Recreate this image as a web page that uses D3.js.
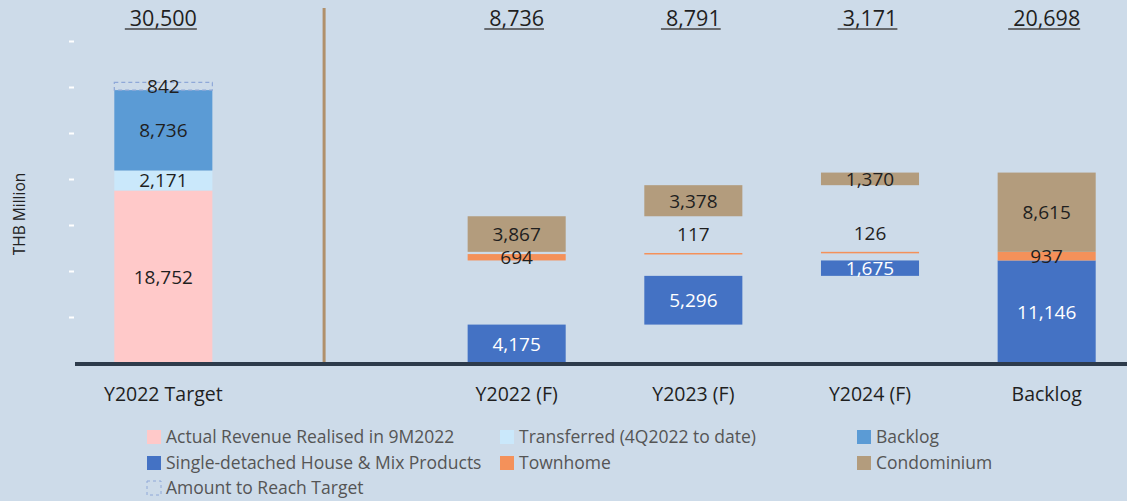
<!DOCTYPE html>
<html>
<head>
<meta charset="utf-8">
<script src="https://cdn.jsdelivr.net/npm/d3@7"></script>
<style>
  html, body { margin: 0; padding: 0; background: #cddbe9; }
  svg { display: block; font-family: "Open Sans", "Noto Sans", sans-serif; }
</style>
</head>
<body>
<svg id="chart" width="1127" height="501"></svg>
<script>
// ---------- DATA ----------
const categories = ["Y2022 Target", "", "Y2022 (F)", "Y2023 (F)", "Y2024 (F)", "Backlog"];
const totals = ["30,500", "", "8,736", "8,791", "3,171", "20,698"];

const targetSeries = ["Actual Revenue Realised in 9M2022", "Transferred (4Q2022 to date)", "Backlog", "Amount to Reach Target"];
const targetValues = [18752, 2171, 8736, 842];

const productCategories = ["Y2022 (F)", "Y2023 (F)", "Y2024 (F)", "Backlog"];
const productSeries = ["Single-detached House & Mix Products", "Townhome", "Condominium"];
const singleDetachedValues = [4175, 5296, 1675, 11146];
const townhomeValues = [694, 117, 126, 937];
const condominiumValues = [3867, 3378, 1370, 8615];

const yTicks = [5000, 10000, 15000, 20000, 25000, 30000, 35000];

// ---------- STYLE ----------
const colors = {
  "Actual Revenue Realised in 9M2022": "#ffc9c9",
  "Transferred (4Q2022 to date)": "#cae8fb",
  "Backlog": "#5b9bd5",
  "Amount to Reach Target": "none",
  "Single-detached House & Mix Products": "#4472c4",
  "Townhome": "#f4915a",
  "Condominium": "#b39c7d"
};
const labelColors = {
  "Single-detached House & Mix Products": "#ffffff"
};

const svg = d3.select("#chart");
const W = 1127, H = 501;

const x = d3.scaleBand().domain(categories).range([75, 1135]).paddingInner(0.445).paddingOuter(0.2225);
const y = d3.scaleLinear().domain([0, 35000]).range([363, 41]);
const bw = x.bandwidth();

// y axis (ticks only)
const yAxis = svg.append("g").attr("transform", "translate(75,0)")
  .call(d3.axisLeft(y).tickValues(yTicks).tickSize(5).tickFormat(""));
yAxis.select(".domain").remove();
yAxis.selectAll(".tick line").attr("stroke", "#ffffff").attr("stroke-width", 2).attr("transform", "translate(-1,0)");

svg.append("text")
  .attr("transform", `translate(25,${y(16200)}) rotate(-90)`)
  .attr("text-anchor", "middle")
  .attr("font-size", 15.5)
  .attr("fill", "#222")
  .text("THB Million");

// ---------- build segments ----------
const segs = [];
let acc = 0;
targetSeries.forEach((s, i) => {
  segs.push({ cat: categories[0], series: s, y0: acc, y1: acc + targetValues[i], value: targetValues[i] });
  acc += targetValues[i];
});

const productValues = [singleDetachedValues, townhomeValues, condominiumValues];
let typeBase = 0;
productSeries.forEach((s, k) => {
  const vals = productValues[k];
  let run = typeBase;
  productCategories.forEach((c, i) => {
    const v = vals[i];
    if (c === "Backlog") {
      segs.push({ cat: c, series: s, y0: typeBase, y1: typeBase + v, value: v });
    } else {
      segs.push({ cat: c, series: s, y0: run, y1: run + v, value: v });
      run += v;
    }
  });
  typeBase += vals[vals.length - 1];
});

// bars
svg.append("g").selectAll("rect").data(segs).join("rect")
  .attr("x", d => x(d.cat))
  .attr("width", bw)
  .attr("y", d => y(d.y1))
  .attr("height", d => Math.max(1.5, y(d.y0) - y(d.y1)))
  .attr("fill", d => colors[d.series])
  .attr("stroke", d => d.series === "Amount to Reach Target" ? "#8fa8d8" : "none")
  .attr("stroke-dasharray", d => d.series === "Amount to Reach Target" ? "4,3" : null)
  .attr("stroke-width", 1.2);

// value labels
const fmt = d3.format(",");
svg.append("g").selectAll("text").data(segs).join("text")
  .attr("x", d => x(d.cat) + bw / 2)
  .attr("y", d => d.value < 300 ? y(d.y1) - 19 : (y(d.y0) + y(d.y1)) / 2)
  .attr("dy", "0.36em")
  .attr("text-anchor", "middle")
  .attr("font-size", 19)
  .attr("fill", d => labelColors[d.series] || "#1f1f1f")
  .text(d => fmt(d.value));

// separator
const sepX = x(categories[1]) + bw / 2 - x.step() * 0.09;
svg.append("line")
  .attr("x1", sepX).attr("x2", sepX)
  .attr("y1", 8).attr("y2", y(0))
  .attr("stroke", "#b0906b").attr("stroke-width", 3);

// baseline
svg.append("line")
  .attr("x1", 75).attr("x2", W)
  .attr("y1", y(0) + 1).attr("y2", y(0) + 1)
  .attr("stroke", "#2d3b4b").attr("stroke-width", 4);

// category labels
svg.append("g").selectAll("text").data(categories.filter(c => c)).join("text")
  .attr("x", d => x(d) + bw / 2)
  .attr("y", 401)
  .attr("text-anchor", "middle")
  .attr("font-size", 19.5)
  .attr("fill", "#1f1f1f")
  .text(d => d);

// totals with underline
const tg = svg.append("g").selectAll("g").data(categories.map((c, i) => ({ c, t: totals[i] })).filter(d => d.t)).join("g");
tg.append("text")
  .attr("x", d => x(d.c) + bw / 2)
  .attr("y", 26)
  .attr("text-anchor", "middle")
  .attr("font-size", 21.5)
  .attr("fill", "#1f1f1f")
  .text(d => d.t);
tg.each(function(d) {
  const t = d3.select(this).select("text").node().getBBox();
  d3.select(this).append("line")
    .attr("x1", t.x - 5).attr("x2", t.x + t.width)
    .attr("y1", 29).attr("y2", 29)
    .attr("stroke", "#444").attr("stroke-width", 1.5);
});

// legend
const legendItems = [
  ["Actual Revenue Realised in 9M2022", 0, 0],
  ["Transferred (4Q2022 to date)", 1, 0],
  ["Backlog", 2, 0],
  ["Single-detached House & Mix Products", 0, 1],
  ["Townhome", 1, 1],
  ["Condominium", 2, 1],
  ["Amount to Reach Target", 0, 2]
];
const colX = [147, 500, 857];
const rowY = [437, 463, 488];
const lg = svg.append("g").selectAll("g").data(legendItems).join("g")
  .attr("transform", d => `translate(${colX[d[1]]},${rowY[d[2]]})`);
lg.append("rect")
  .attr("x", 0).attr("y", -7).attr("width", 14).attr("height", 14)
  .attr("fill", d => colors[d[0]])
  .attr("stroke", d => d[0] === "Amount to Reach Target" ? "#8fa8d8" : "none")
  .attr("stroke-dasharray", "3,3");
lg.append("text")
  .attr("x", 19).attr("y", 0).attr("dy", "0.35em")
  .attr("font-size", 17.5)
  .attr("fill", "#555")
  .text(d => d[0]);
</script>
</body>
</html>
